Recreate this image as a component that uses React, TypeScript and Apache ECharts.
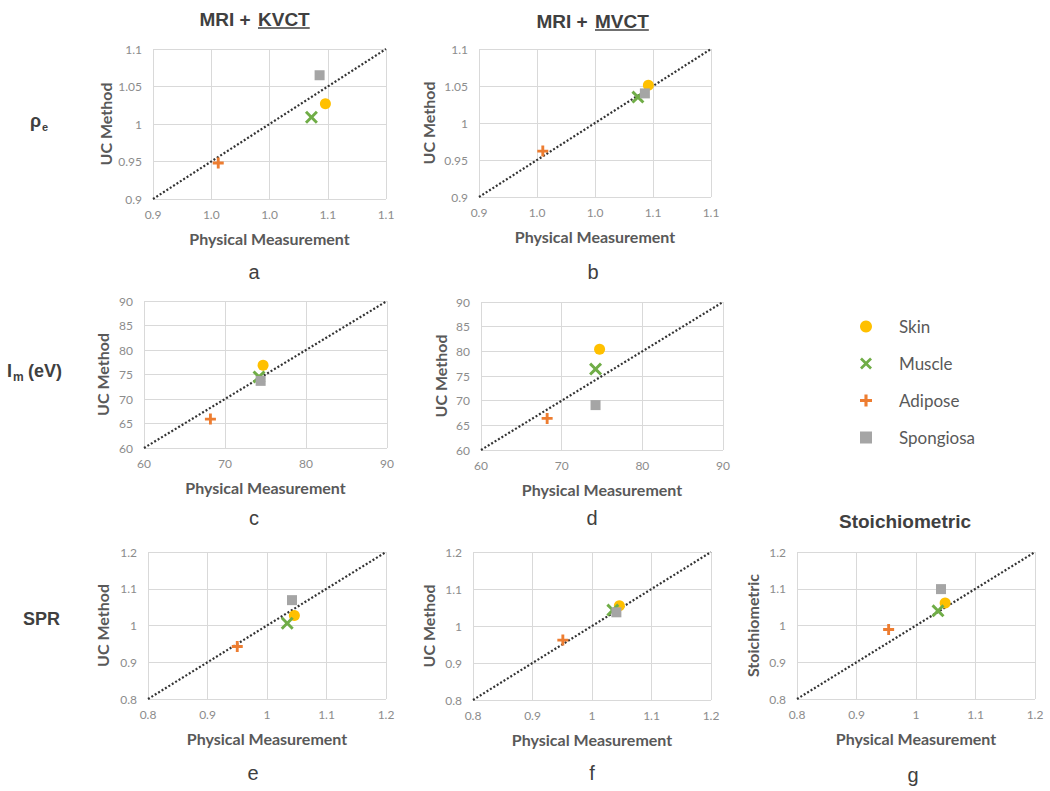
import React, { useEffect, useRef } from "react";
import * as echarts from "echarts";

// ---------- data ----------
const materials = ["Skin", "Muscle", "Adipose", "Spongiosa"];
const materialColors = ["#FFC000", "#70AD47", "#ED7D31", "#A5A5A5"];

// [physical measurement, method] per material in order Skin, Muscle, Adipose, Spongiosa
const rhoKvct = [[1.048, 1.027], [1.036, 1.009], [0.956, 0.948], [1.043, 1.065]];
const rhoMvct = [[1.046, 1.051], [1.037, 1.035], [0.955, 0.962], [1.043, 1.04]];
const imKvct = [[74.7, 76.9], [74.2, 74.5], [68.2, 65.9], [74.4, 73.7]];
const imMvct = [[74.7, 80.4], [74.2, 76.4], [68.2, 66.4], [74.2, 69.1]];
const sprKvct = [[1.046, 1.027], [1.034, 1.006], [0.95, 0.943], [1.042, 1.069]];
const sprMvct = [[1.046, 1.055], [1.035, 1.043], [0.951, 0.962], [1.041, 1.037]];
const sprStoich = [[1.049, 1.061], [1.037, 1.04], [0.954, 0.989], [1.042, 1.099]];

const rhoXTickLabels = ["0.9", "1.0", "1.0", "1.1", "1.1"];
const rhoYTickLabels = ["0.9", "0.95", "1", "1.05", "1.1"];
const imXTickLabels = ["60", "70", "80", "90"];
const imYTickLabels = ["60", "65", "70", "75", "80", "85", "90"];
const sprTickLabels = ["0.8", "0.9", "1", "1.1", "1.2"];

const panelLetters = ["a", "b", "c", "d", "e", "f", "g"];

// ---------- styles ----------
const X_PATH =
  "path://M0,1.6 L1.6,0 L5,3.4 L8.4,0 L10,1.6 L6.6,5 L10,8.4 L8.4,10 L5,6.6 L1.6,10 L0,8.4 L3.4,5 Z";
const PLUS_PATH =
  "path://M3.7,0 L6.3,0 L6.3,3.7 L10,3.7 L10,6.3 L6.3,6.3 L6.3,10 L3.7,10 L3.7,6.3 L0,6.3 L0,3.7 L3.7,3.7 Z";
const symbols = ["circle", X_PATH, PLUS_PATH, "rect"];
const symbolSizes = [11, 13, 11, 10];

const TICK_FONT = "Lato";
const TITLE_FONT = "Liberation Sans";
const DARK = "#404040";

type Panel = {
  data: number[][];
  grid: { left: number; top: number; width: number; height: number };
  x: [number, number, number];
  y: [number, number, number];
  xLabels: string[];
  yLabels: string[];
  yName: string;
  yGap: number;
  letter: [number, number];
};

const panels: Panel[] = [
  { data: rhoKvct, grid: { left: 153, top: 49, width: 233, height: 150 }, x: [0.9, 1.1, 0.05], y: [0.9, 1.1, 0.05], xLabels: rhoXTickLabels, yLabels: rhoYTickLabels, yName: "UC Method", yGap: 40, letter: [254, 272] },
  { data: rhoMvct, grid: { left: 479, top: 49, width: 232, height: 148 }, x: [0.9, 1.1, 0.05], y: [0.9, 1.1, 0.05], xLabels: rhoXTickLabels, yLabels: rhoYTickLabels, yName: "UC Method", yGap: 43, letter: [593, 272] },
  { data: imKvct, grid: { left: 144, top: 301, width: 243, height: 147 }, x: [60, 90, 10], y: [60, 90, 5], xLabels: imXTickLabels, yLabels: imYTickLabels, yName: "UC Method", yGap: 34, letter: [254, 518] },
  { data: imMvct, grid: { left: 481, top: 302, width: 242, height: 148 }, x: [60, 90, 10], y: [60, 90, 5], xLabels: imXTickLabels, yLabels: imYTickLabels, yName: "UC Method", yGap: 33, letter: [592, 518] },
  { data: sprKvct, grid: { left: 148, top: 552, width: 238, height: 147 }, x: [0.8, 1.2, 0.1], y: [0.8, 1.2, 0.1], xLabels: sprTickLabels, yLabels: sprTickLabels, yName: "UC Method", yGap: 38, letter: [253, 773] },
  { data: sprMvct, grid: { left: 473, top: 552, width: 238, height: 148 }, x: [0.8, 1.2, 0.1], y: [0.8, 1.2, 0.1], xLabels: sprTickLabels, yLabels: sprTickLabels, yName: "UC Method", yGap: 37, letter: [592, 773] },
  { data: sprStoich, grid: { left: 797, top: 552, width: 238, height: 147 }, x: [0.8, 1.2, 0.1], y: [0.8, 1.2, 0.1], xLabels: sprTickLabels, yLabels: sprTickLabels, yName: "Stoichiometric", yGap: 37, letter: [913, 775] },
];

function measure(text: string, font: string): number {
  const c = document.createElement("canvas").getContext("2d");
  if (!c) return text.length * 11;
  c.font = font;
  return c.measureText(text).width;
}

function makeAxis(range: [number, number, number], labels: string[], margin: number, extra: any) {
  const [min, max, interval] = range;
  return {
    type: "value",
    min,
    max,
    interval,
    axisLine: { show: false },
    axisTick: { show: false },
    splitLine: { show: true, lineStyle: { color: "#D9D9D9", width: 1 } },
    axisLabel: {
      color: "#8C8C8C",
      fontFamily: TICK_FONT,
      fontSize: 12,
      margin,
      formatter: (v: number) => labels[Math.round((v - min) / interval)] ?? "",
    },
    nameLocation: "middle",
    nameTextStyle: { color: "#595959", fontFamily: TICK_FONT, fontWeight: "bold", fontSize: 16 },
    ...extra,
  };
}

export default function App() {
  const ref = useRef<HTMLDivElement>(null);

  useEffect(() => {
    document.body.style.margin = "0";
    if (!ref.current) return;
    const chart = echarts.init(ref.current, undefined, { renderer: "svg" });

    const grids = panels.map((p) => p.grid);
    const xAxes = panels.map((p, i) =>
      makeAxis(p.x, p.xLabels, 9, { gridIndex: i, name: "Physical Measurement", nameGap: 31 })
    );
    const yAxes = panels.map((p, i) =>
      makeAxis(p.y, p.yLabels, 11, { gridIndex: i, name: p.yName, nameGap: p.yGap, nameRotate: 90 })
    );

    const series: any[] = [];
    panels.forEach((p, i) => {
      series.push({
        type: "line",
        name: "Identity",
        xAxisIndex: i,
        yAxisIndex: i,
        data: [
          [p.x[0], p.y[0]],
          [p.x[1], p.y[1]],
        ],
        symbol: "none",
        silent: true,
        z: 1,
        lineStyle: { color: "#333333", width: 2.2, type: [2, 2] },
      });
      materials.forEach((m, k) => {
        series.push({
          type: "scatter",
          name: m,
          xAxisIndex: i,
          yAxisIndex: i,
          data: [p.data[k]],
          symbol: symbols[k],
          symbolSize: symbolSizes[k],
          itemStyle: { color: materialColors[k], opacity: 1 },
          z: 2 + k,
        });
      });
    });

    const titleFont = `bold 19px "${TITLE_FONT}"`;
    const kvctW = measure("KVCT", titleFont);
    const mvctW = measure("MVCT", titleFont);
    const titleStyle = { fontFamily: TITLE_FONT, fontWeight: "bold", fontSize: 19, fill: DARK };
    const rowStyle = { fontFamily: TITLE_FONT, fontWeight: "bold", fontSize: 18, fill: DARK };

    const graphic: any[] = [
      { type: "text", x: 256, y: 19, style: { ...titleStyle, text: "MRI + ", align: "right", verticalAlign: "middle" } },
      { type: "text", x: 258, y: 19, style: { ...titleStyle, text: "KVCT", align: "left", verticalAlign: "middle" } },
      { type: "line", shape: { x1: 258, y1: 28, x2: 258 + kvctW, y2: 28 }, style: { stroke: DARK, lineWidth: 1.6 } },
      { type: "text", x: 593, y: 21, style: { ...titleStyle, text: "MRI + ", align: "right", verticalAlign: "middle" } },
      { type: "text", x: 595, y: 21, style: { ...titleStyle, text: "MVCT", align: "left", verticalAlign: "middle" } },
      { type: "line", shape: { x1: 595, y1: 30, x2: 595 + mvctW, y2: 30 }, style: { stroke: DARK, lineWidth: 1.6 } },
      { type: "text", x: 905, y: 521, style: { ...titleStyle, text: "Stoichiometric", align: "center", verticalAlign: "middle" } },
      // row labels
      { type: "text", x: 30, y: 121, style: { ...rowStyle, text: "ρ", align: "left", verticalAlign: "middle" } },
      { type: "text", x: 42, y: 127, style: { ...rowStyle, fontSize: 11, text: "e", align: "left", verticalAlign: "middle" } },
      { type: "text", x: 7, y: 371, style: { ...rowStyle, text: "I", align: "left", verticalAlign: "middle" } },
      { type: "text", x: 13, y: 377, style: { ...rowStyle, fontSize: 12, text: "m", align: "left", verticalAlign: "middle" } },
      { type: "text", x: 28, y: 371, style: { ...rowStyle, text: "(eV)", align: "left", verticalAlign: "middle" } },
      { type: "text", x: 23, y: 619, style: { ...rowStyle, text: "SPR", align: "left", verticalAlign: "middle" } },
    ];
    panels.forEach((p, i) => {
      graphic.push({
        type: "text",
        x: p.letter[0],
        y: p.letter[1],
        style: { text: panelLetters[i], fontFamily: TITLE_FONT, fontSize: 20, fill: DARK, align: "center", verticalAlign: "middle" },
      });
    });

    chart.setOption({
      animation: false,
      backgroundColor: "#FFFFFF",
      grid: grids,
      xAxis: xAxes,
      yAxis: yAxes,
      series,
      legend: {
        orient: "vertical",
        left: 855,
        top: 313,
        padding: 5,
        itemWidth: 12,
        itemHeight: 12,
        itemGap: 20,
        selectedMode: false,
        data: materials.map((m, k) => ({ name: m, icon: symbols[k], itemStyle: { color: materialColors[k] } })),
        textStyle: { fontFamily: TICK_FONT, fontSize: 17, lineHeight: 17, color: "#595959", padding: [0, 0, 0, 22] },
      },
      graphic,
    });

    return () => chart.dispose();
  }, []);

  return <div ref={ref} style={{ width: 1050, height: 791 }} />;
}
